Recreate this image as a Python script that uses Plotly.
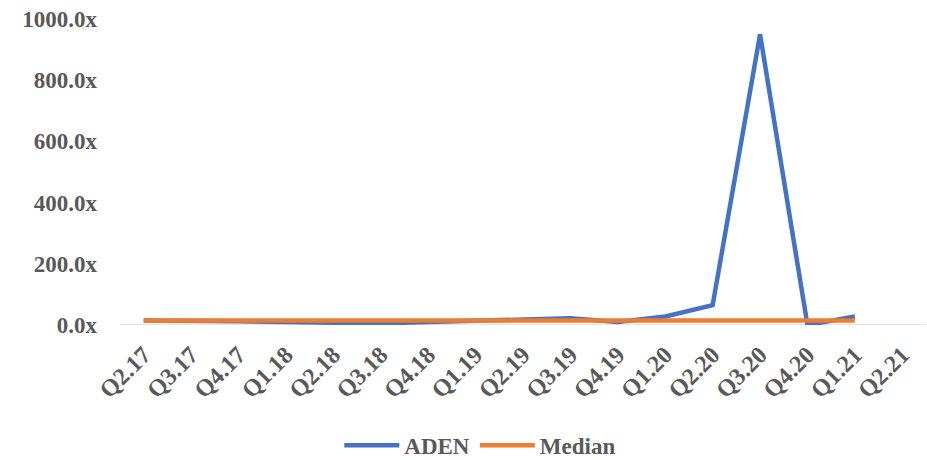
import plotly.graph_objects as go

categories = ["Q2.17", "Q3.17", "Q4.17", "Q1.18", "Q2.18", "Q3.18", "Q4.18", "Q1.19",
              "Q2.19", "Q3.19", "Q4.19", "Q1.20", "Q2.20", "Q3.20", "Q4.20", "Q1.21", "Q2.21"]
aden = [15, 15, 12, 10, 8, 5, 10, 15, 18, 22, 10, 28, 65, 950, 0, 28]
median = [15, 16, 15, 15, 15, 15, 15, 15, 15, 15, 15, 15, 15, 15, 15, 15]
y_ticks = [0, 200, 400, 600, 800, 1000]

font_family = "Liberation Serif, serif"
grey = "#595959"

fig = go.Figure()
fig.add_trace(go.Scatter(x=categories[:len(aden)], y=aden, mode="lines", name="<b>ADEN</b>",
                         line=dict(color="#4472C4", width=4.5)))
fig.add_trace(go.Scatter(x=categories[:len(median)], y=median, mode="lines", name="<b>Median</b>",
                         line=dict(color="#ED7D31", width=4.5)))

fig.update_layout(
    width=927, height=460,
    margin=dict(l=120, r=1, t=19, b=135),
    paper_bgcolor="white", plot_bgcolor="white",
    font=dict(family=font_family, size=23, color=grey),
    showlegend=True,
    legend=dict(orientation="h", x=0.447, xanchor="center", yref="container", y=0.032,
                yanchor="middle", itemwidth=55,
                font=dict(family=font_family, size=23, color=grey)),
    xaxis=dict(type="category", categoryorder="array", categoryarray=categories,
               tickvals=categories, ticktext=["<b>%s</b>" % c for c in categories],
               range=[-0.5, len(categories) - 0.5], tickangle=-45, automargin=False,
               tickfont=dict(size=24), ticklabelstandoff=10,
               showgrid=False, showline=False, zeroline=False, ticks=""),
    yaxis=dict(range=[0, 1000], tickvals=y_ticks, automargin=False,
               ticktext=["<b>%.1fx</b>" % v for v in y_ticks],
               showgrid=False, zeroline=False, showline=False, ticks="", ticklabelstandoff=22),
    shapes=[dict(type="line", xref="paper", yref="y", x0=0, x1=1, y0=0, y1=0,
                 line=dict(color="#D9D9D9", width=1.5), layer="below")],
)

fig.write_html("out.html", config={"displayModeBar": False},
               post_script="document.body.style.margin='0';")
